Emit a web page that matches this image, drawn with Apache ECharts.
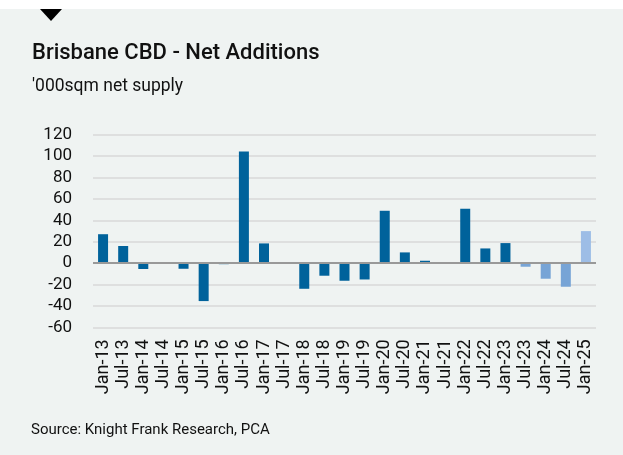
<!DOCTYPE html>
<html><head><meta charset="utf-8">
<script src="https://cdn.jsdelivr.net/npm/echarts@6/dist/echarts.min.js"></script>
<style>html,body{margin:0;padding:0;background:#fff}#c{width:623px;height:455px}</style>
</head><body><div id="c"></div>
<script>
const categories = ['Jan-13','Jul-13','Jan-14','Jul-14','Jan-15','Jul-15','Jan-16','Jul-16','Jan-17','Jul-17','Jan-18','Jul-18','Jan-19','Jul-19','Jan-20','Jul-20','Jan-21','Jul-21','Jan-22','Jul-22','Jan-23','Jul-23','Jan-24','Jul-24','Jan-25'];
const netSupply = [27, 16, -5.5, 1, -5.3, -35.5, -1, 104.4, 18.4, -0.3, -24, -11.8, -16.5, -15.3, 48.9, 10, 2.2, 0, 50.8, 13.7, 18.7, -3.4, -14.6, -22.1, 29.9];
const status = ['a','a','a','a','a','a','a','a','a','a','a','a','a','a','a','a','a','a','a','a','a','f','f','f','p'];
const yTicks = [-60, -40, -20, 0, 20, 40, 60, 80, 100, 120];
const colors = {a:'#00629B', f:'#77A4D6', p:'#9DBDE6'};
const FONT = 'Roboto';
const chart = echarts.init(document.getElementById('c'), null, {renderer:'canvas'});
chart.setOption({
  backgroundColor: '#fff',
  animation: false,
  graphic: [
    {type:'rect', shape:{x:0,y:9,width:623,height:446}, style:{fill:'#EFF3F2'}, z:-10},
    {type:'polygon', shape:{points:[[40,9],[62,9],[51,21]]}, style:{fill:'#000'}},
    {type:'text', left:31, top:423, style:{text:'Source: Knight Frank Research, PCA', font:'15px '+FONT, fill:'#111'}}
  ],
  title: [
    {text:'Brisbane CBD - Net Additions', left:32, top:42, padding:0, textStyle:{fontFamily:FONT, fontSize:22, fontWeight:500, color:'#111'}},
    {text:"'000sqm net supply", left:32, top:78, padding:0, textStyle:{fontFamily:FONT, fontSize:17.5, fontWeight:'normal', color:'#111'}}
  ],
  grid: {left:93, right:27, top:134.7, bottom:127.7},
  xAxis: {
    type:'category', data: categories,
    axisLine:{show:false}, axisTick:{show:false},
    axisLabel:{rotate:90, interval:0, margin:12, fontFamily:FONT, fontSize:18, color:'#111'}
  },
  yAxis: {
    type:'value', min:-60, max:120, interval:20,
    axisLine:{show:false}, axisTick:{show:false},
    splitLine:{lineStyle:{color:'#D9D9D9', width:1.5}},
    axisLabel:{margin:21, fontFamily:FONT, fontSize:17, color:'#111',
      formatter: v => yTicks.includes(v) ? String(v) : ''}
  },
  series: [{
    type:'bar', barWidth:10,
    data: netSupply.map((v,i)=>({value:v, itemStyle:{color:colors[status[i]]}})),
    markLine: {silent:true, symbol:'none', label:{show:false}, lineStyle:{color:'#999', width:2, type:'solid'}, data:[{yAxis:0}]}
  }]
});
</script></body></html>
